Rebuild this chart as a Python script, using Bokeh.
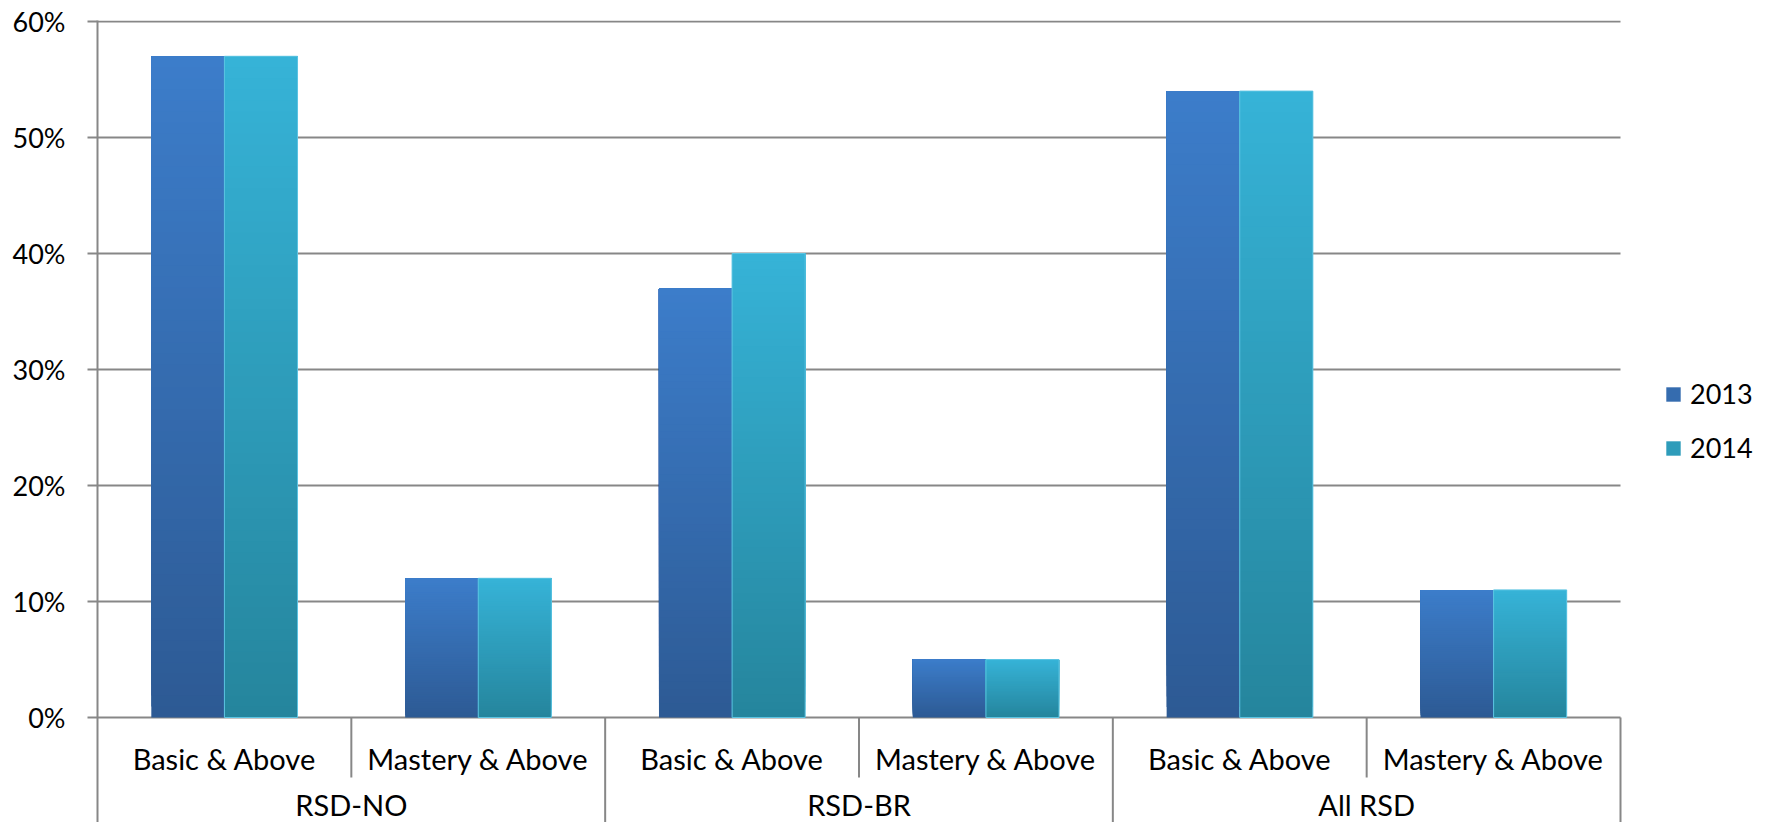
from bokeh.plotting import figure
from bokeh.models import (Range1d, FixedTicker, NumeralTickFormatter,
                          ColumnDataSource, Legend, LegendItem)
from bokeh.core.properties import value
from bokeh.embed import file_html
from bokeh.resources import INLINE

# ---- data ----
groups = ["RSD-NO", "RSD-BR", "All RSD"]
subgroups = ["Basic & Above", "Mastery & Above"]
years = ["2013", "2014"]
values_2013 = [0.57, 0.12, 0.37, 0.05, 0.54, 0.11]
values_2014 = [0.57, 0.12, 0.40, 0.05, 0.54, 0.11]
y_ticks = [0.0, 0.1, 0.2, 0.3, 0.4, 0.5, 0.6]

# ---- style ----
FONT = "Lato"
GRAY = "#878787"
grad_2013 = ("#3C7DCA", "#2D5A94")  # top, bottom
grad_2014 = ("#36B3D7", "#25859D")
N_SLICES = 60
BAR_W = 0.288

categories = [(g, s) for g in groups for s in subgroups]
n_cat = len(categories)
centers = [i + 0.5 for i in range(n_cat)]          # one unit per category

W, H = 1753, 822
LEFT, TOP = 97, 20
CAT_PX = (1620 - LEFT) / n_cat                     # pixel width of one category
PX_PER_UNIT = 1160.0                               # pixels per 100%
p = figure(width=W, height=H, output_backend="svg", toolbar_location=None,
           x_range=Range1d(0, (W - LEFT) / CAT_PX),
           y_range=Range1d(-105 / PX_PER_UNIT, 0.6 + 1 / PX_PER_UNIT),
           x_axis_location=None,
           min_border_left=LEFT, min_border_right=0, min_border_top=TOP,
           min_border_bottom=0)
p.outline_line_color = None
p.background_fill_color = "white"
p.border_fill_color = "white"

# y axis
yax = p.yaxis[0]
yax.ticker = FixedTicker(ticks=y_ticks)
yax.formatter = NumeralTickFormatter(format="0%")
yax.axis_line_color = GRAY
yax.axis_line_width = 2
yax.major_tick_line_color = GRAY
yax.major_tick_line_width = 2
yax.major_tick_out = 10
yax.major_tick_in = 0
yax.minor_tick_line_color = None
yax.major_label_text_font = FONT
yax.major_label_text_font_size = "27px"
yax.major_label_text_color = "black"
yax.major_label_standoff = 22

p.xgrid.visible = False
p.ygrid.visible = False
# horizontal gridlines spanning only the category area
p.segment(x0=0, x1=n_cat, y0=y_ticks, y1=y_ticks, line_color=GRAY, line_width=2)


def hex_to_rgb(h):
    h = h.lstrip("#")
    return tuple(int(h[i:i + 2], 16) for i in (0, 2, 4))


def interp(c_top, c_bot, t):
    a, b = hex_to_rgb(c_top), hex_to_rgb(c_bot)
    r = [round(b[i] + (a[i] - b[i]) * t) for i in range(3)]
    return "#%02x%02x%02x" % tuple(r)


def gradient_source(vals, grad, offset):
    xs, bottoms, tops, colors = [], [], [], []
    for c, v in zip(centers, vals):
        for k in range(N_SLICES):
            xs.append(c + offset)
            bottoms.append(v * k / N_SLICES)
            tops.append(v)
            colors.append(interp(grad[0], grad[1], (k + 0.5) / N_SLICES))
    return ColumnDataSource(dict(x=xs, bottom=bottoms, top=tops, color=colors))


src13 = gradient_source(values_2013, grad_2013, -BAR_W / 2)
src14 = gradient_source(values_2014, grad_2014, BAR_W / 2)

r13 = p.vbar(x="x", bottom="bottom", top="top", width=BAR_W, fill_color="color",
             line_color=None, source=src13)
r14 = p.vbar(x="x", bottom="bottom", top="top", width=BAR_W, fill_color="color",
             line_color=None, source=src14)

# thin light edge on 2014 bars
p.vbar(x=[c + BAR_W / 2 for c in centers], bottom=0, top=values_2014, width=BAR_W,
       fill_color=None, line_color="#5cc4e2", line_width=1)

# category dividers below the axis
n_sub = len(subgroups)
inner_x = [i for i in range(n_cat) if i % n_sub != 0]
outer_x = [i for i in range(1, n_cat + 1) if i % n_sub == 0]
p.segment(x0=inner_x, x1=inner_x, y0=0, y1=-60 / PX_PER_UNIT,
          line_color=GRAY, line_width=2)
p.segment(x0=outer_x, x1=outer_x, y0=0, y1=-0.2, line_color=GRAY, line_width=2)

# category labels
p.text(x=centers, y=-41 / PX_PER_UNIT, text=[c[1] for c in categories],
       text_font=value(FONT), text_font_size=value("29px"), text_color="black",
       text_align="center", text_baseline="middle")
group_centers = [g * n_sub + n_sub / 2 for g in range(len(groups))]
p.text(x=group_centers, y=-87 / PX_PER_UNIT, text=groups,
       text_font=value(FONT), text_font_size=value("29px"), text_color="black",
       text_align="center", text_baseline="middle")

# legend, right of the category area
mid = N_SLICES // 2
legend = Legend(items=[LegendItem(label=years[0], renderers=[r13], index=mid),
                       LegendItem(label=years[1], renderers=[r14], index=mid)],
                location=(1664 - LEFT, 358), orientation="vertical",
                glyph_width=18, glyph_height=18, label_standoff=8,
                label_text_font=FONT, label_text_font_size="27px",
                label_text_color="black", label_height=33, spacing=21,
                padding=0, margin=0, border_line_color=None,
                background_fill_alpha=0)
p.add_layout(legend)

open("out.html", "w").write(file_html(p, INLINE))
